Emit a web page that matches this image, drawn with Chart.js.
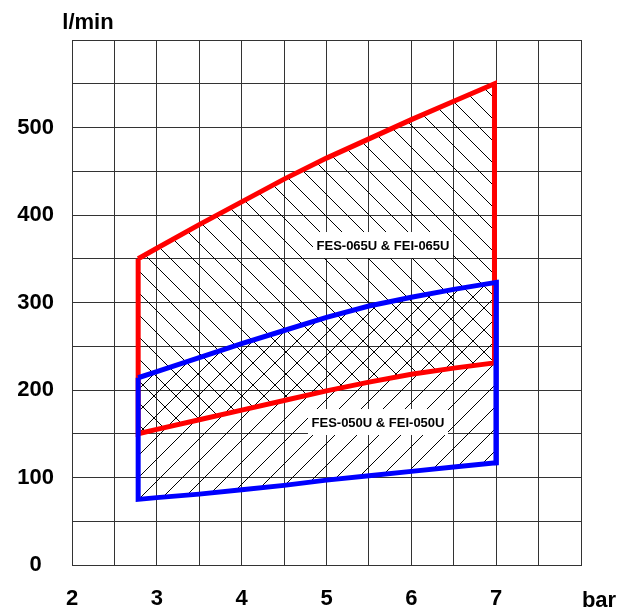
<!DOCTYPE html>
<html><head><meta charset="utf-8">
<script src="https://cdn.jsdelivr.net/npm/chart.js@4"></script>
<style>html,body{margin:0;padding:0;background:#fff;}canvas{display:block;}</style>
</head><body>
<canvas id="c" width="618" height="610"></canvas>
<script>
// ---- data ----
const xTickLabels = ['2', '3', '4', '5', '6', '7'];
const yTickLabels = ['0', '100', '200', '300', '400', '500'];
const bar065 = [2.78, 3, 3.5, 4, 4.5, 5, 5.5, 6, 6.5, 6.98];
const flow065Max = [350, 362, 389, 415, 441, 465, 487, 509, 530, 550];
const flow065Min = [150, 155, 166, 177, 188, 199, 209, 218, 225, 231];
const bar050 = [2.78, 3, 3.5, 4, 4.5, 5, 5.5, 6, 6.5, 7];
const flow050Max = [214, 221, 237, 253, 268, 283, 296, 306, 315, 323];
const flow050Min = [75, 77, 81, 86, 91, 97, 102, 107, 112, 117];
const seriesNames = ['FES-065U & FEI-065U', 'FES-050U & FEI-050U'];
const xTitle = 'bar';
const yTitle = 'l/min';

function outline(xs, hi, lo) {
  const pts = xs.map((x, i) => ({x: x, y: hi[i]}));
  for (let i = xs.length - 1; i >= 0; i--) pts.push({x: xs[i], y: lo[i]});
  pts.push({x: xs[0], y: hi[0]});
  return pts;
}

const canvas = document.getElementById('c');
const ctx = canvas.getContext('2d');

function hatch(dir, s) {
  const c = document.createElement('canvas');
  c.width = s; c.height = s;
  const g = c.getContext('2d');
  g.strokeStyle = '#000';
  g.lineWidth = 1;
  g.beginPath();
  for (const k of [-s, 0, s]) {
    if (dir === 'back') { g.moveTo(k, 0); g.lineTo(k + s, s); }
    else { g.moveTo(k, s); g.lineTo(k + s, 0); }
  }
  g.stroke();
  return ctx.createPattern(c, 'repeat');
}

const FONT = '"Liberation Sans", Arial, sans-serif';

const textPlugin = {
  id: 'texts',
  afterDatasetsDraw(chart) {
    const c = chart.ctx, xs = chart.scales.x, ys = chart.scales.y;
    const boxes = [
      {t: seriesNames[0], x: 5.666, y: 365.7},
      {t: seriesNames[1], x: 5.607, y: 163.4}
    ];
    c.save();
    c.font = 'bold 13px ' + FONT;
    c.textAlign = 'center';
    c.textBaseline = 'middle';
    for (const b of boxes) {
      const px = xs.getPixelForValue(b.x), py = ys.getPixelForValue(b.y);
      c.fillStyle = '#fff';
      c.fillRect(px - 70, py - 13, 140, 26);
      c.fillStyle = '#000';
      c.fillText(b.t, px, py + 1);
    }
    c.restore();
  },
  afterDraw(chart) {
    const c = chart.ctx;
    c.save();
    c.font = 'bold 22px ' + FONT;
    c.fillStyle = '#000';
    c.textAlign = 'center';
    c.textBaseline = 'alphabetic';
    c.fillText(yTitle, 88, 29);
    c.fillText(xTitle, 599, 607);
    c.restore();
  }
};

new Chart(ctx, {
  type: 'scatter',
  data: {
    datasets: [
      {
        data: outline(bar050, flow050Max, flow050Min),
        showLine: true, fill: 'shape',
        backgroundColor: hatch('fwd', 22),
        borderColor: '#0000ff', borderWidth: 5,
        borderJoinStyle: 'miter', borderCapStyle: 'butt',
        pointRadius: 0, tension: 0
      },
      {
        data: outline(bar065, flow065Max, flow065Min),
        showLine: true, fill: 'shape',
        backgroundColor: hatch('back', 22),
        borderColor: '#ff0000', borderWidth: 5,
        borderJoinStyle: 'miter', borderCapStyle: 'butt',
        pointRadius: 0, tension: 0
      },
      {
        data: [
          {x: bar050[bar050.length - 1], y: flow050Min[flow050Min.length - 1]},
          {x: bar050[bar050.length - 1], y: flow050Max[flow050Max.length - 1]}
        ],
        showLine: true, fill: false,
        borderColor: '#0000ff', borderWidth: 5,
        borderCapStyle: 'square',
        pointRadius: 0, tension: 0
      }
    ]
  },
  options: {
    responsive: false,
    animation: false,
    devicePixelRatio: 1,
    layout: {padding: {top: 40, right: 37, left: 0, bottom: 0}},
    plugins: {
      legend: {display: false},
      tooltip: {enabled: false},
      filler: {drawTime: 'beforeDatasetsDraw'}
    },
    scales: {
      x: {
        type: 'linear', min: 2, max: 8,
        afterFit(s) { s.height = 45; },
        grid: {color: '#333', lineWidth: 1, drawTicks: false},
        border: {display: true, color: '#333'},
        ticks: {
          stepSize: 0.5, autoSkip: false, maxRotation: 0, padding: 21,
          color: '#000', font: {family: FONT, size: 22, weight: 'bold'},
          callback: (v) => (Number.isInteger(v) && v < 8) ? xTickLabels[v - 2] : ''
        }
      },
      y: {
        type: 'linear', min: 0, max: 600,
        afterFit(s) { s.width = 72; },
        grid: {color: '#333', lineWidth: 1, drawTicks: false},
        border: {display: true, color: '#333'},
        ticks: {
          stepSize: 50, autoSkip: false, padding: 18, crossAlign: 'center',
          color: '#000', font: {family: FONT, size: 22, weight: 'bold'},
          callback: (v) => (v % 100 === 0 && v < 600) ? yTickLabels[v / 100] : ''
        }
      }
    }
  },
  plugins: [textPlugin]
});
</script>
</body></html>
